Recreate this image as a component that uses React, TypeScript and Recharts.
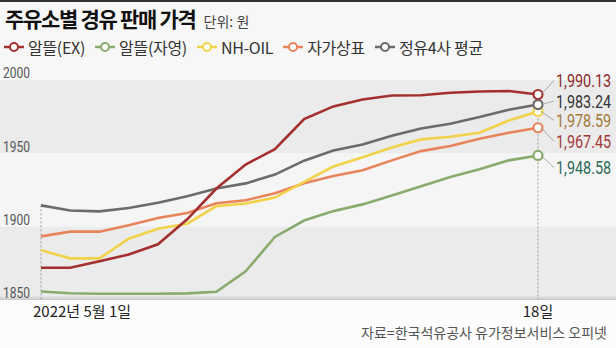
import React from "react";
import { LineChart, Line, XAxis, YAxis, ReferenceArea, ReferenceLine, LabelList } from "recharts";

// 2022년 5월 1일 ~ 18일
const days = [1, 2, 3, 4, 5, 6, 7, 8, 9, 10, 11, 12, 13, 14, 15, 16, 17, 18];
const xTickLabels = ["2022년 5월 1일", "18일"];
const yTicks = [1850, 1900, 1950, 2000];

const exPrices = [1872, 1872, 1876.4, 1881, 1888, 1905, 1926, 1942.4, 1952.8, 1973.4, 1982, 1986.7, 1989.4, 1989.6, 1991.3, 1992.2, 1992.5, 1990.13];
const selfPrices = [1855.8, 1854.6, 1854.3, 1854.3, 1854.3, 1854.5, 1855.6, 1869.5, 1893, 1904.2, 1910.6, 1915.2, 1921.3, 1927.5, 1933.8, 1939.2, 1945.2, 1948.58];
const nhPrices = [1884, 1878.4, 1878.4, 1891.8, 1898.6, 1902, 1914, 1915.8, 1919.8, 1930.6, 1941, 1947.4, 1954, 1959.5, 1961.3, 1964, 1972.4, 1978.59];
const brandPrices = [1893.4, 1896.6, 1896.6, 1901, 1905.9, 1909.3, 1916, 1918, 1922.8, 1929.6, 1934.6, 1938.4, 1945.2, 1951.5, 1955, 1960, 1964, 1967.45];
const refinerPrices = [1914.5, 1911, 1910.4, 1912.7, 1916.3, 1920.8, 1926, 1929.5, 1935.5, 1945, 1952, 1956, 1962, 1967, 1970.2, 1974.7, 1979.7, 1983.24];

const series = [
  { key: "ex", name: "알뜰(EX)", values: exPrices, color: "#a3302f", labelColor: "#8c2a2a", dy: -14 },
  { key: "self", name: "알뜰(자영)", values: selfPrices, color: "#8aab6e", labelColor: "#2d6b5b", dy: 12 },
  { key: "nh", name: "NH-OIL", values: nhPrices, color: "#f2d24a", labelColor: "#a57a3c", dy: 9 },
  { key: "brand", name: "자가상표", values: brandPrices, color: "#e8845c", labelColor: "#a33a3a", dy: 13.5 },
  { key: "refiner", name: "정유4사 평균", values: refinerPrices, color: "#6b6b6b", labelColor: "#333333", dy: -3.5 },
];

const drawOrder = ["self", "brand", "nh", "refiner", "ex"];

const data = days.map((d, i) => {
  const row: any = { idx: i, day: d };
  series.forEach((s) => (row[s.key] = s.values[i]));
  return row;
});

const W = 616;
const H = 348;
const last = days.length - 1;
const firstX = 41;
const lastX = 538;
const step = (lastX - firstX) / last;
const xDomain = [-firstX / step, last + (W - lastX) / step];

const numFont = "Roboto, 'DejaVu Sans Condensed', sans-serif";
const kr = "'Noto Sans CJK KR', 'Noto Sans', sans-serif";

const fmt = (v: number) => v.toLocaleString("en-US", { minimumFractionDigits: 2, maximumFractionDigits: 2 });

// condensed look: squeeze normal-width digits horizontally
function Narrow({ x, y, size, color, children }: any) {
  return (
    <g transform={`translate(${x},${y}) scale(0.8,1)`}>
      <text x={0} y={0} dy="0.36em" fill={color} fontSize={size} fontFamily={numFont}>
        {children}
      </text>
    </g>
  );
}

function yLabel(v: number) {
  return (p: any) => (
    <Narrow x={3} y={p.viewBox.y - 7} size={15} color="#555">
      {v}
    </Narrow>
  );
}

function XTick(p: any) {
  const first = p.payload.value === 0;
  return (
    <text x={first ? p.x - 8 : p.x} y={p.y - 2} dy="0.71em" textAnchor={first ? "start" : "middle"} fill="#222" fontSize={15} fontFamily={kr}>
      {first ? xTickLabels[0] : xTickLabels[1]}
    </text>
  );
}

function endLabel(s: any) {
  return (p: any) => {
    if (p.index !== last) return null;
    const ty = p.y + s.dy;
    return (
      <g>
        <line x1={p.x + 3} y1={p.y} x2={p.x + 16} y2={ty} stroke="#999" strokeWidth={0.8} />
        <Narrow x={p.x + 18} y={ty} size={18} color={s.labelColor}>
          {fmt(p.value)}
        </Narrow>
      </g>
    );
  };
}

function endDot(color: string) {
  return (p: any) => {
    if (p.index !== last) return <g key={p.key} />;
    return <circle key={p.key} cx={p.cx} cy={p.cy} r={4.5} fill="#fff" stroke={color} strokeWidth={2.2} />;
  };
}

function LegendItem({ s }: { s: any }) {
  return (
    <span style={{ display: "inline-flex", alignItems: "center", marginRight: 9 }}>
      <svg width={22} height={12} style={{ marginRight: 3 }}>
        <line x1={1} y1={6} x2={21} y2={6} stroke={s.color} strokeWidth={2.5} />
        <circle cx={11} cy={6} r={4} fill="#fff" stroke={s.color} strokeWidth={2} />
      </svg>
      {s.name}
    </span>
  );
}

export default function App() {
  const byKey: any = {};
  series.forEach((s) => (byKey[s.key] = s));
  const topFirst = Math.max(...series.map((s) => s.values[0]));
  const topLast = Math.max(...series.map((s) => s.values[last]));

  return (
    <div style={{ position: "absolute", left: 0, top: 0, width: W, height: H, background: "#f7f7f7", overflow: "hidden", fontFamily: kr }}>
      <div style={{ position: "absolute", left: 0, top: 0, width: W, height: 2, background: "#333" }} />
      <div style={{ position: "absolute", left: 0, top: 300, width: W, height: 48, background: "#fcfcfc" }} />
      <div style={{ position: "absolute", left: 5, top: 4, lineHeight: "28px", whiteSpace: "nowrap", color: "#111" }}>
        <span style={{ fontSize: 21, fontWeight: 700, letterSpacing: -1.3 }}>주유소별 경유 판매 가격</span>
        <span style={{ fontSize: 14, color: "#444", marginLeft: 8 }}>단위: 원</span>
      </div>
      <div style={{ position: "absolute", left: 3, top: 37, lineHeight: "20px", fontSize: 16, color: "#333", whiteSpace: "nowrap", display: "flex", letterSpacing: -0.3 }}>
        {series.map((s) => (
          <LegendItem key={s.key} s={s} />
        ))}
      </div>
      <div style={{ position: "absolute", right: 9, top: 322, fontSize: 14, color: "#555", lineHeight: "20px", whiteSpace: "nowrap" }}>
        자료=한국석유공사 유가정보서비스 오피넷
      </div>
      <div style={{ position: "absolute", left: 0, top: 0 }}>
        <LineChart width={W} height={H} data={data} margin={{ top: 80, right: 0, bottom: 18, left: 0 }}>
          <defs>
            <linearGradient id="baseShadow" x1="0" y1="0" x2="0" y2="1">
              <stop offset="0%" stopColor="#e2e2e2" />
              <stop offset="100%" stopColor="#c9c9c9" />
            </linearGradient>
          </defs>
          <XAxis dataKey="idx" type="number" domain={xDomain} ticks={[0, last]} height={30} axisLine={false} tickLine={false} tick={<XTick />} interval={0} />
          <YAxis type="number" domain={[1850, 2000]} ticks={yTicks} hide />
          <ReferenceArea y1={1950} y2={2000} fill="#ebebeb" fillOpacity={1} stroke="none" />
          <ReferenceArea y1={1900} y2={1950} fill="#f5f5f5" fillOpacity={1} stroke="none" />
          <ReferenceArea y1={1850} y2={1900} fill="#ebebeb" fillOpacity={1} stroke="none" />
          <ReferenceArea y1={1850} y2={1852.6} fill="url(#baseShadow)" fillOpacity={1} stroke="none" />
          {yTicks.map((t) => (
            <ReferenceLine key={t} y={t} stroke="none" label={yLabel(t)} />
          ))}
          <ReferenceLine segment={[{ x: 0, y: topFirst }, { x: 0, y: 1850 }]} stroke="#9a9a9a" strokeDasharray="2 2" strokeWidth={1} />
          <ReferenceLine segment={[{ x: last, y: topLast }, { x: last, y: 1850 }]} stroke="#9a9a9a" strokeDasharray="2 2" strokeWidth={1} />
          {drawOrder.map((k) => {
            const s = byKey[k];
            return (
              <Line
                key={k}
                dataKey={k}
                name={s.name}
                stroke={s.color}
                strokeWidth={2.6}
                dot={endDot(s.color)}
                activeDot={false}
                isAnimationActive={false}
                type="linear"
              >
                <LabelList dataKey={k} content={endLabel(s)} />
              </Line>
            );
          })}
        </LineChart>
      </div>
    </div>
  );
}
